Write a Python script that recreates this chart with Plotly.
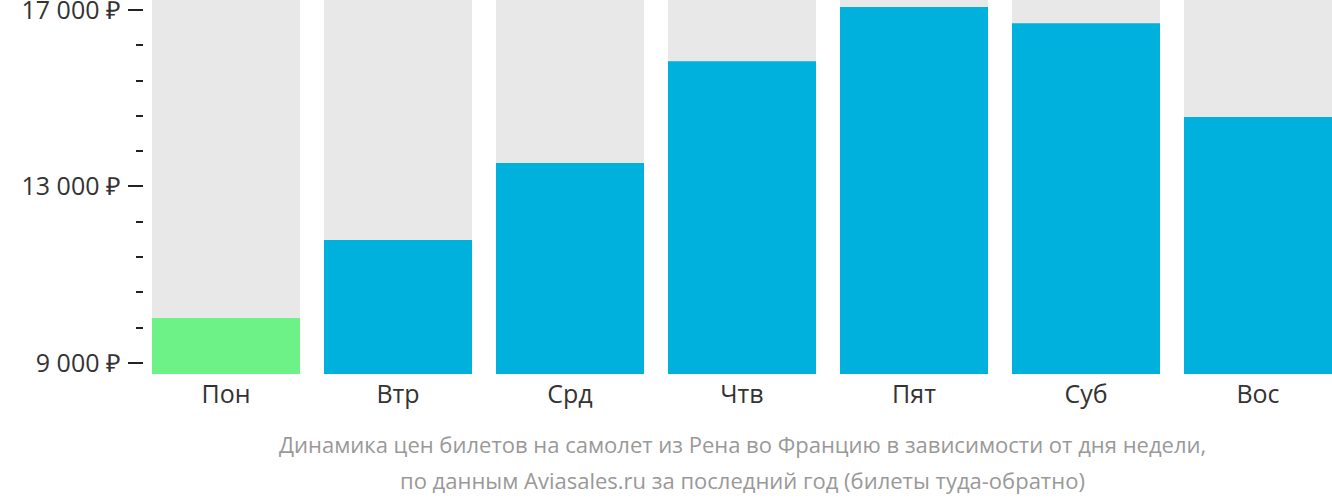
import plotly.graph_objects as go

days = ["Пон", "Втр", "Срд", "Чтв", "Пят", "Суб", "Вос"]
prices = [10020, 11790, 13530, 15840, 17070, 16700, 14575]
bar_colors = ["#6DF287", "#00B1DD", "#00B1DD", "#00B1DD", "#00B1DD", "#00B1DD", "#00B1DD"]
y_tickvals = [9000, 13000, 17000]
y_ticktext = ["9 000 ₽", "13 000 ₽", "17 000 ₽"]
y_min, y_max = 8750, 17227
caption_lines = ["Динамика цен билетов на самолет из Рена во Францию в зависимости от дня недели,",
                 "по данным Aviasales.ru за последний год (билеты туда-обратно)"]

W, H = 1332, 502
ML = 143
PLOT_H = 374
plot_left = 152
gap = 24 / 172

fig = go.Figure()
fig.add_trace(go.Bar(
    x=days, y=[y_max - y_min] * len(days), base=[y_min] * len(days),
    marker=dict(color="#E8E8E8", line=dict(width=0)), hoverinfo="skip", showlegend=False))
fig.add_trace(go.Bar(
    x=days, y=[p - y_min for p in prices], base=[y_min] * len(days),
    marker=dict(color=bar_colors, line=dict(width=0)), showlegend=False))

annotations = []
for line, py in zip(caption_lines, [444, 480]):
    annotations.append(dict(
        text=line, xref="x domain", yref="paper", x=0.5, y=-(py - PLOT_H) / PLOT_H,
        yanchor="middle", xanchor="center", showarrow=False,
        font=dict(size=22, color="#999999", family="Open Sans")))

fig.update_layout(
    width=W, height=H,
    margin=dict(l=ML, r=0, t=0, b=H - PLOT_H, pad=0, autoexpand=False),
    barmode="overlay", bargap=gap,
    plot_bgcolor="white", paper_bgcolor="white",
    font=dict(family="Open Sans", color="#333333"),
    xaxis=dict(
        domain=[(plot_left - ML) / (W - ML), 1], automargin=False,
        range=[-0.5 + gap / 2, len(days) - 0.5 - gap / 2],
        showgrid=False, zeroline=False, showline=False, ticks="",
        tickfont=dict(size=25, color="#333333"), ticklabelstandoff=3,
    ),
    yaxis=dict(
        anchor="free", position=0, automargin=False,
        range=[y_min, y_max],
        tickmode="array", tickvals=y_tickvals, ticktext=y_ticktext,
        ticks="outside", ticklen=15, tickwidth=2, tickcolor="#222222",
        minor=dict(dtick=800, tick0=9000, ticks="outside", ticklen=7, tickwidth=2, tickcolor="#222222", showgrid=False),
        showgrid=False, zeroline=False, showline=False,
        tickfont=dict(size=25, color="#333333"), ticklabelstandoff=2,
        ticklabeloverflow="allow",
    ),
    annotations=annotations,
)

fig.write_html("out.html")
